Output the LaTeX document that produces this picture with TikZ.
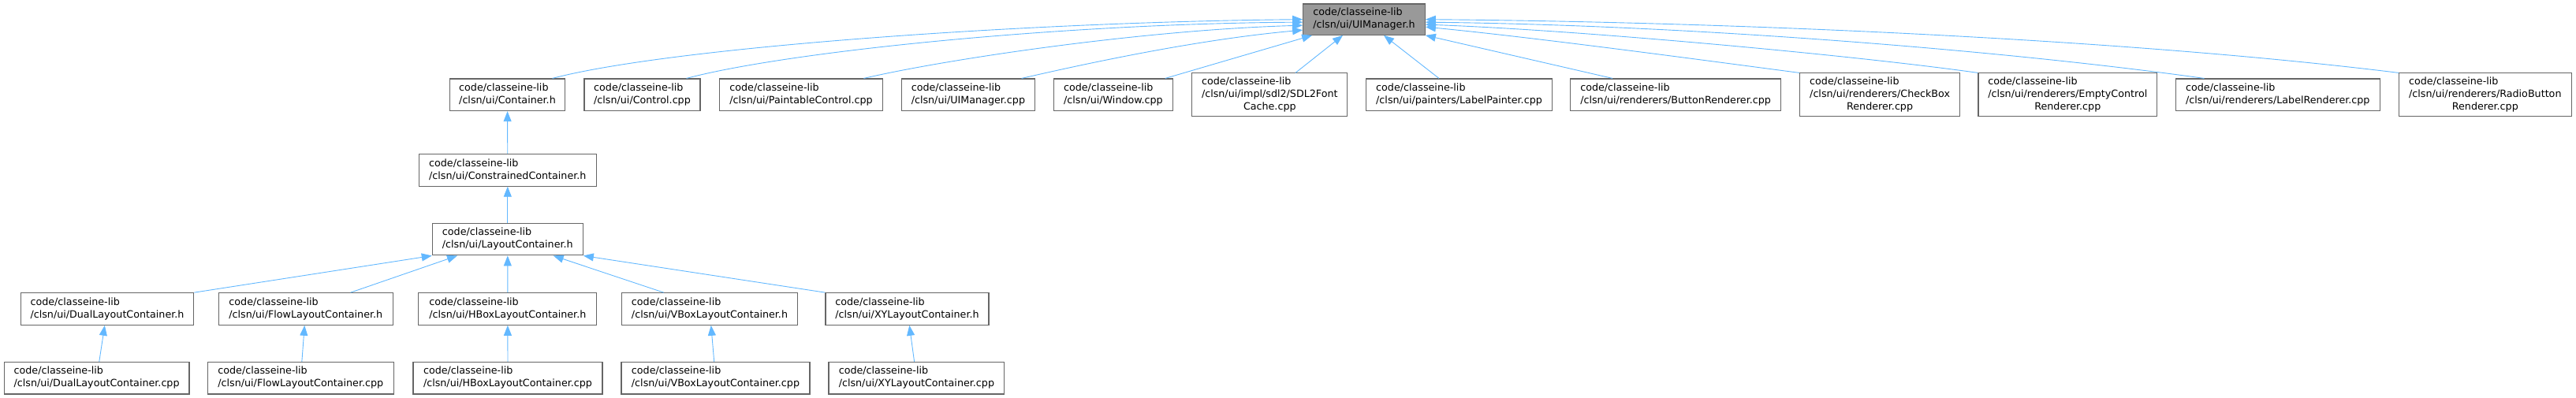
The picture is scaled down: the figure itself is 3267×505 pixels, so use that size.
\documentclass[tikz,border=0pt]{standalone}
\usepackage{fontspec}
\newfontfamily\doxfont{DejaVu Sans}
\usetikzlibrary{arrows.meta}
\definecolor{edgeblue}{HTML}{63B8FF}
\definecolor{boxgray}{HTML}{666666}
\definecolor{mainfill}{HTML}{999999}
\newcommand{\filelab}[1]{\begin{tabular}{@{}l@{}}code/classeine-lib\\/clsn/ui/#1\end{tabular}}
\newcommand{\filelabc}[2]{\begin{tabular}{@{}l@{}}code/classeine-lib\\/clsn/ui/#1\\\multicolumn{1}{@{}c@{}}{#2}\end{tabular}}

\begin{document}
\begin{tikzpicture}[x=1pt,y=-1pt,
	every node/.style={font=\doxfont\fontsize{12.7}{16}\selectfont},
	box/.style={draw=boxgray,line width=1.1pt,fill=white,inner sep=0pt,minimum height=40.6pt},
	tall/.style={minimum height=54.7pt},
	mainbox/.style={box,fill=mainfill},
	dep/.style={draw=edgeblue,line width=0.9pt,-{Triangle[length=13pt,width=10pt]}}]
	\useasboundingbox (0,0) rectangle (3267,505);

	% The header whose includers are shown.
	\node[mainbox,minimum width=154.6pt,minimum height=39.3pt] (uimgr) at (1730,24.65) {\filelab{UIManager.h}};

	% First rank: files that include it directly.
	\node[box,minimum width=146pt] (container) at (643.5,120.3) {\filelab{Container.h}};
	\node[box,minimum width=147pt] (control) at (814.5,120.3) {\filelab{Control.cpp}};
	\node[box,minimum width=207pt] (paintable) at (1016,120.3) {\filelab{PaintableControl.cpp}};
	\node[box,minimum width=169.5pt] (uimgrcpp) at (1227.9,120.3) {\filelab{UIManager.cpp}};
	\node[box,minimum width=150.6pt] (window) at (1411.9,120.3) {\filelab{Window.cpp}};
	\node[box,tall,minimum width=197pt] (sdlcache) at (1610.3,120.3) {\filelabc{impl/sdl2/SDL2Font}{Cache.cpp}};
	\node[box,minimum width=235.4pt] (lpainter) at (1850.5,120.3) {\filelab{painters/LabelPainter.cpp}};
	\node[box,minimum width=266.8pt] (button) at (2125.1,120.3) {\filelab{renderers/ButtonRenderer.cpp}};
	\node[box,tall,minimum width=203.2pt] (checkbox) at (2384.1,120.3) {\filelabc{renderers/CheckBox}{Renderer.cpp}};
	\node[box,tall,minimum width=226.7pt] (empty) at (2622.3,120.3) {\filelabc{renderers/EmptyControl}{Renderer.cpp}};
	\node[box,minimum width=258.8pt] (lrenderer) at (2888.8,120.3) {\filelab{renderers/LabelRenderer.cpp}};
	\node[box,tall,minimum width=218.5pt] (radio) at (3151.8,120.3) {\filelabc{renderers/RadioButton}{Renderer.cpp}};

	% The container chain.
	\node[box,minimum width=225pt] (constrained) at (643.8,215.85) {\filelab{ConstrainedContainer.h}};
	\node[box,minimum width=191pt] (layout) at (643.8,303.6) {\filelab{LayoutContainer.h}};

	% Layout headers and their sources.
	\node[box,minimum width=219.6pt] (dualh) at (136,392) {\filelab{DualLayoutContainer.h}};
	\node[box,minimum width=221.2pt] (flowh) at (387.8,392) {\filelab{FlowLayoutContainer.h}};
	\node[box,minimum width=225.9pt] (hboxh) at (643.85,392) {\filelab{HBoxLayoutContainer.h}};
	\node[box,minimum width=223.6pt] (vboxh) at (900,392) {\filelab{VBoxLayoutContainer.h}};
	\node[box,minimum width=207pt] (xyh) at (1150.5,392) {\filelab{XYLayoutContainer.h}};
	\node[box,minimum width=234.8pt] (dualcpp) at (122.6,479.7) {\filelab{DualLayoutContainer.cpp}};
	\node[box,minimum width=236.5pt] (flowcpp) at (381.3,479.7) {\filelab{FlowLayoutContainer.cpp}};
	\node[box,minimum width=240pt] (hboxcpp) at (644,479.7) {\filelab{HBoxLayoutContainer.cpp}};
	\node[box,minimum width=239pt] (vboxcpp) at (907.5,479.7) {\filelab{VBoxLayoutContainer.cpp}};
	\node[box,minimum width=222.8pt] (xycpp) at (1162.4,479.7) {\filelab{XYLayoutContainer.cpp}};

	% Includers on the left enter the side of the header.
	\draw[dep] ([xshift=-16.5pt]container.north east) .. controls (850,60) and (1300,28) .. (uimgr.west);
	\draw[dep] ([xshift=-18pt]control.north east) .. controls (1000,65) and (1350,30) .. ([yshift=-3.5pt]uimgr.west);
	\draw[dep] ([xshift=-24.6pt]paintable.north east) .. controls (1200,75) and (1450,38) .. ([yshift=-7.5pt]uimgr.west);
	\draw[dep] ([xshift=-17.6pt]uimgrcpp.north east) .. controls (1380,80) and (1520,50) .. ([yshift=-13.5pt]uimgr.west);
	\draw[dep] ([xshift=-10pt]window.north east) -- ([xshift=12pt]uimgr.south west);
	\draw[dep] ([xshift=32.7pt]sdlcache.north) -- ([xshift=-27pt]uimgr.south);
	\draw[dep] ([xshift=-25.5pt]lpainter.north) -- ([xshift=25pt]uimgr.south);
	% Includers on the right.
	\draw[dep] ([xshift=-80pt]button.north) -- (uimgr.south east);
	\draw[dep] (checkbox.north west) .. controls (2150,75) and (1950,48) .. ([yshift=-9.5pt]uimgr.east);
	\draw[dep] (empty.north west) .. controls (2350,70) and (2000,38) .. ([yshift=-6.5pt]uimgr.east);
	\draw[dep] ([xshift=36.6pt]lrenderer.north west) .. controls (2550,65) and (2150,32) .. ([yshift=-3.5pt]uimgr.east);
	\draw[dep] (radio.north west) .. controls (2700,50) and (2200,28) .. (uimgr.east);

	% Down the container chain.
	\draw[dep] (constrained) -- (container);
	\draw[dep] (layout) -- (constrained);
	\draw[dep] (dualh.north east) -- (layout.south west);
	\draw[dep] ([xshift=56.8pt]flowh.north) -- ([xshift=-63.8pt]layout.south);
	\draw[dep] (hboxh) -- (layout);
	\draw[dep] ([xshift=-58.3pt]vboxh.north) -- ([xshift=57.9pt]layout.south);
	\draw[dep] (xyh.north west) -- (layout.south east);
	\foreach \src/\dst in {dualcpp/dualh,flowcpp/flowh,hboxcpp/hboxh,vboxcpp/vboxh,xycpp/xyh}
		\draw[dep] (\src) -- (\dst);
\end{tikzpicture}
\end{document}
